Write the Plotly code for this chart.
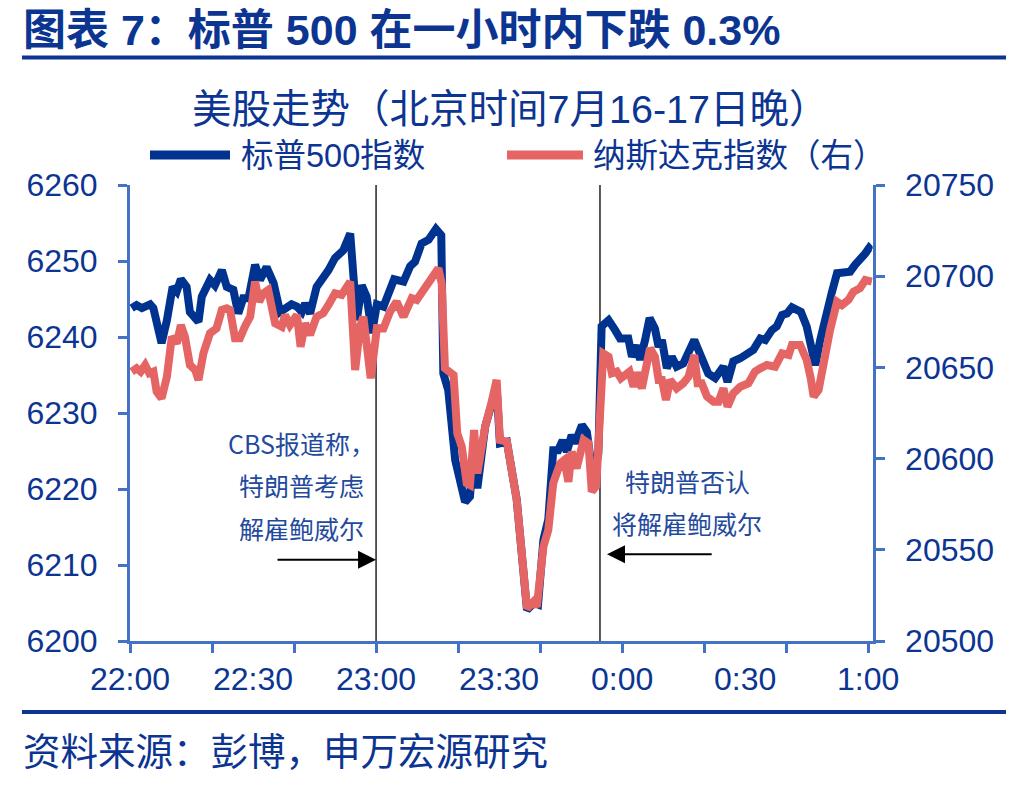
import plotly.graph_objects as go

W, H = 1028, 787

TITLE = "图表 7：标普 500 在一小时内下跌 0.3%"
CHART_TITLE = "美股走势（北京时间7月16-17日晚）"
SOURCE = "资料来源：彭博，申万宏源研究"
SP_NAME = "标普500指数"
NQ_NAME = "纳斯达克指数（右）"

# minutes after 22:00 (Beijing time)
sp_minutes = [0.4, 1.6, 2.9, 4.9, 5.7, 7.7, 9.0, 10.4, 11.4, 12.4, 13.8, 14.6, 16.7, 17.5, 19.5,
              20.7, 22.4, 23.6, 25.2, 26.4, 27.6, 28.9, 30.5, 31.7, 33.3, 35.0, 36.6, 38.2, 39.4,
              40.7, 41.9, 42.7, 43.9, 45.5, 47.1, 48.4, 50.0, 52.0, 53.7, 54.5, 55.3, 56.5, 57.7,
              59.0, 60.2, 61.8, 63.0, 64.4, 66.7, 68.3, 69.5, 71.1, 72.8, 74.6, 75.9, 76.4, 77.6,
              79.3, 81.7, 82.9, 83.9, 84.7, 86.6, 89.0, 89.4, 90.2, 91.9, 94.3, 95.5, 96.8, 98.5,
              99.5, 100.8, 102.0, 103.2, 104.4, 105.5, 106.5, 107.7, 108.5, 110.2, 111.4, 113.0,
              114.2, 115.0, 116.7, 118.3, 119.5, 121.5, 122.4, 123.6, 124.4, 125.6, 126.7, 128.0,
              128.9, 129.7, 130.9, 132.1, 133.3, 134.9, 136.2, 137.6, 138.6, 139.8, 141.0, 142.7,
              144.7, 145.7, 147.1, 148.8, 150.8, 152.0, 153.7, 154.9, 156.5, 157.7, 159.0, 160.2,
              161.4, 162.6, 163.6, 165.0, 166.3, 167.1, 168.3, 169.9, 171.1, 172.4, 173.8, 175.6,
              176.8, 178.0, 179.3, 180.2, 180.7]
sp_values = [6243.8, 6244.2, 6243.8, 6244.3, 6243.8, 6239.2, 6242.2, 6246.6, 6246.0, 6247.6, 6246.6,
             6243.3, 6242.0, 6245.3, 6247.5, 6246.8, 6248.8, 6246.6, 6246.2, 6243.1, 6245.1, 6245.1,
             6249.5, 6247.5, 6249.2, 6247.1, 6243.3, 6243.8, 6244.3, 6244.0, 6243.3, 6244.4, 6243.1,
             6246.6, 6247.7, 6248.8, 6250.4, 6251.4, 6253.6, 6246.2, 6242.2, 6246.8, 6245.3, 6240.5,
             6244.3, 6244.0, 6245.8, 6247.6, 6247.3, 6249.3, 6249.9, 6252.3, 6252.8, 6254.2, 6253.4,
             6235.2, 6233.0, 6223.8, 6218.3, 6219.0, 6226.0, 6220.1, 6228.2, 6232.1, 6233.5, 6226.0,
             6226.2, 6218.6, 6211.5, 6204.1, 6205.0, 6204.8, 6213.3, 6216.0, 6225.1, 6225.1, 6226.4,
             6224.9, 6227.1, 6226.0, 6228.4, 6227.5, 6221.2, 6224.7, 6241.4, 6242.2, 6240.9, 6239.8,
             6239.8, 6237.4, 6238.9, 6237.0, 6239.6, 6242.5, 6241.1, 6238.7, 6239.6, 6235.9, 6237.4,
             6236.1, 6236.5, 6237.8, 6239.6, 6238.3, 6237.0, 6235.2, 6234.6, 6236.1, 6234.1, 6236.8,
             6237.2, 6238.1, 6238.3, 6239.8, 6239.6, 6240.9, 6241.4, 6242.9, 6243.1, 6243.9, 6243.6,
             6243.3, 6241.4, 6238.7, 6236.3, 6239.6, 6243.6, 6245.8, 6248.4, 6248.5, 6248.6, 6249.5,
             6250.1, 6251.0, 6251.7, 6251.4]

nq_minutes = [0.4, 1.6, 2.6, 3.7, 4.7, 5.7, 6.5, 7.7, 9.0, 10.2, 11.4, 12.4, 13.4, 14.6, 15.9, 16.7,
              17.9, 19.5, 21.1, 22.4, 23.6, 24.4, 25.6, 26.8, 28.0, 29.3, 30.5, 31.5, 32.5, 33.7,
              35.4, 37.0, 37.8, 39.0, 40.7, 41.6, 42.7, 43.9, 45.5, 47.1, 48.4, 50.0, 51.6, 53.7,
              54.9, 56.1, 56.9, 58.7, 60.2, 61.8, 63.4, 65.0, 66.7, 68.7, 69.9, 72.0, 73.6, 75.2,
              76.0, 76.8, 78.9, 79.8, 80.9, 82.1, 82.9, 83.9, 84.7, 86.6, 88.2, 89.4, 90.2, 91.9,
              94.3, 95.5, 96.8, 98.4, 99.2, 100.8, 102.0, 103.2, 104.9, 105.9, 106.9, 107.7, 108.9,
              110.6, 111.8, 112.6, 113.7, 115.4, 116.7, 117.5, 118.7, 119.7, 120.7, 121.8, 122.8,
              123.6, 124.8, 126.0, 126.8, 128.0, 128.9, 129.7, 130.7, 131.7, 133.3, 134.9, 136.2,
              137.6, 138.4, 139.4, 140.7, 142.3, 143.5, 144.7, 145.7, 147.1, 148.8, 150.8, 152.4,
              153.7, 155.3, 157.3, 159.0, 160.6, 161.4, 163.4, 165.0, 166.0, 166.7, 167.9, 169.1,
              170.7, 172.4, 173.6, 175.2, 176.4, 178.0, 179.3, 180.9]
nq_values = [20647.7, 20649.5, 20647.7, 20651.3, 20646.8, 20647.7, 20636.7, 20633.0, 20644.9, 20666.8,
             20663.2, 20673.2, 20666.8, 20651.3, 20648.6, 20643.1, 20657.7, 20668.7, 20671.4, 20681.5,
             20682.4, 20681.5, 20666.0, 20666.0, 20672.3, 20677.8, 20697.0, 20686.0, 20690.5, 20692.4,
             20674.2, 20672.3, 20678.7, 20673.2, 20678.7, 20661.3, 20674.2, 20667.8, 20677.8, 20679.7,
             20684.2, 20690.6, 20689.7, 20697.0, 20648.6, 20672.3, 20677.8, 20644.0, 20671.5, 20671.4,
             20680.5, 20686.0, 20677.8, 20687.9, 20687.0, 20694.2, 20697.9, 20704.3, 20696.1, 20649.5,
             20645.8, 20613.9, 20606.5, 20586.5, 20585.5, 20615.7, 20591.9, 20617.5, 20631.2, 20643.1,
             20610.2, 20609.3, 20577.3, 20548.1, 20517.9, 20521.6, 20518.8, 20551.7, 20560.9, 20586.5,
             20597.4, 20599.2, 20587.3, 20603.8, 20594.7, 20610.2, 20608.4, 20581.9, 20585.0, 20657.7,
             20655.9, 20646.8, 20647.7, 20644.0, 20645.8, 20647.7, 20639.4, 20647.2, 20638.5, 20654.1,
             20660.5, 20655.9, 20643.1, 20643.1, 20632.1, 20643.1, 20638.5, 20641.3, 20644.9, 20656.8,
             20641.3, 20641.3, 20634.0, 20631.2, 20631.2, 20638.5, 20628.5, 20635.8, 20639.4, 20641.3,
             20647.7, 20649.5, 20651.3, 20650.4, 20657.7, 20656.8, 20662.3, 20662.3, 20654.1, 20644.0,
             20634.0, 20637.6, 20654.1, 20670.5, 20686.0, 20684.2, 20687.0, 20691.5, 20693.4, 20697.9,
             20697.0]

x_label_minutes = [0, 30, 60, 90, 120, 150, 180]
x_labels = ["22:00", "22:30", "23:00", "23:30", "0:00", "0:30", "1:00"]
x_tick_minutes = [0, 20, 40, 60, 80, 100, 120, 140, 160, 180]
left_ticks = [6200, 6210, 6220, 6230, 6240, 6250, 6260]
right_ticks = [20500, 20550, 20600, 20650, 20700, 20750]

event_minutes = [60, 114.6]
event_texts = [["CBS报道称，", "特朗普考虑", "解雇鲍威尔"], ["特朗普否认", "将解雇鲍威尔"]]
arrow_tail_minutes = [35.6, 142.2]
arrow_levels = [6210.7, 6211.4]

NAVY = "#0C3592"
SP_COLOR = "#00338F"
NQ_COLOR = "#E56565"
AXIS = "#4472C4"
NOTE = "#1F4A9E"
FONT = "Liberation Sans, Arial, Noto Sans CJK SC"
CJK = "Noto Sans CJK SC, Liberation Sans"


def px(x):
    return x / W


def py(y):
    return 1 - y / H


X_DOM = [px(130), px(872.7)]
Y_DOM = [py(641), py(185)]
X_RANGE = [0, 181.1]

fig = go.Figure()
fig.add_trace(go.Scatter(x=sp_minutes, y=sp_values, mode="lines", name=SP_NAME,
                         line=dict(color=SP_COLOR, width=8), xaxis="x", yaxis="y",
                         showlegend=False))
fig.add_trace(go.Scatter(x=nq_minutes, y=nq_values, mode="lines", name=NQ_NAME,
                         line=dict(color=NQ_COLOR, width=8), xaxis="x", yaxis="y2",
                         showlegend=False))
fig.add_trace(go.Scatter(x=[None], y=[None], xaxis="x2", yaxis="y", showlegend=False,
                         hoverinfo="skip"))

tickfont = dict(family=FONT, size=32, color=NAVY)

fig.update_layout(
    width=W, height=H, margin=dict(l=0, r=0, t=0, b=0, pad=0, autoexpand=False),
    paper_bgcolor="white", plot_bgcolor="white", showlegend=False,
    xaxis=dict(domain=X_DOM, range=X_RANGE, tickmode="array", tickvals=x_tick_minutes,
               showticklabels=False, ticks="outside", ticklen=9, tickwidth=3, tickcolor=AXIS,
               showline=True, linecolor=AXIS, linewidth=3, showgrid=False, zeroline=False,
               anchor="y", automargin=False),
    xaxis2=dict(domain=X_DOM, range=X_RANGE, overlaying="x", anchor="y", side="bottom",
                tickmode="array", tickvals=x_label_minutes, ticktext=x_labels, ticks="",
                showline=False, showgrid=False, zeroline=False, tickfont=tickfont,
                ticklabelstandoff=16, automargin=False),
    yaxis=dict(domain=Y_DOM, range=[6200, 6260], tickmode="array", tickvals=left_ticks,
               ticktext=[str(v) for v in left_ticks],
               ticks="outside", ticklen=9, tickwidth=3, tickcolor=AXIS, showline=True,
               linecolor=AXIS, linewidth=3, showgrid=False, zeroline=False, tickfont=tickfont,
               ticklabelstandoff=14, anchor="x", automargin=False),
    yaxis2=dict(domain=Y_DOM, range=[20500, 20750], tickmode="array", tickvals=right_ticks,
                ticktext=[str(v) for v in right_ticks],
                overlaying="y", side="right", anchor="x", ticks="outside", ticklen=9,
                tickwidth=3, tickcolor=AXIS, showline=True, linecolor=AXIS, linewidth=3,
                showgrid=False, zeroline=False, tickfont=tickfont, ticklabelstandoff=14,
                automargin=False),
)

shapes = []
# event vertical lines
for m in event_minutes:
    shapes.append(dict(type="line", xref="x", yref="y", x0=m, x1=m, y0=6200, y1=6260,
                       line=dict(color="black", width=1.3), layer="below"))
# header / footer rules
shapes.append(dict(type="line", xref="paper", yref="paper", x0=px(22), x1=px(1006),
                   y0=py(57.5), y1=py(57.5), line=dict(color=NAVY, width=4)))
shapes.append(dict(type="line", xref="paper", yref="paper", x0=px(22), x1=px(1006),
                   y0=py(712), y1=py(712), line=dict(color=NAVY, width=4)))
# legend samples
shapes.append(dict(type="line", xref="paper", yref="paper", x0=px(150), x1=px(230),
                   y0=py(155), y1=py(155), line=dict(color=SP_COLOR, width=9)))
shapes.append(dict(type="line", xref="paper", yref="paper", x0=px(507), x1=px(583),
                   y0=py(155), y1=py(155), line=dict(color=NQ_COLOR, width=9)))
fig.update_layout(shapes=shapes)

ann = []
ann.append(dict(text="<b>" + TITLE + "</b>", x=px(21), y=py(30), xref="paper", yref="paper",
                xanchor="left", yanchor="middle", showarrow=False,
                font=dict(family=FONT, size=43, color=NAVY)))
ann.append(dict(text=CHART_TITLE, x=px(510), y=py(109), xref="paper", yref="paper",
                xanchor="center", yanchor="middle", showarrow=False,
                font=dict(family=FONT, size=39.5, color=NAVY)))
ann.append(dict(text=SP_NAME, x=px(239), y=py(156), xref="paper", yref="paper",
                xanchor="left", yanchor="middle", showarrow=False,
                font=dict(family=FONT, size=32.5, color=NAVY)))
ann.append(dict(text=NQ_NAME, x=px(591), y=py(156), xref="paper", yref="paper",
                xanchor="left", yanchor="middle", showarrow=False,
                font=dict(family=FONT, size=32.5, color=NAVY)))
ann.append(dict(text=SOURCE, x=px(21), y=py(752), xref="paper", yref="paper",
                xanchor="left", yanchor="middle", showarrow=False,
                font=dict(family=FONT, size=37.5, color=NAVY)))

note_centers = [301, 687]
note_rows = [[443, 485, 528], [481, 523]]
for lines, cx, rows in zip(event_texts, note_centers, note_rows):
    for line, ry in zip(lines, rows):
        ann.append(dict(text=line, x=px(cx), y=py(ry), xref="paper", yref="paper",
                        xanchor="center", yanchor="middle", showarrow=False,
                        font=dict(family=CJK, size=25, color=NOTE)))

standoffs = [0, 7]
for m, tail, lvl, so in zip(event_minutes, arrow_tail_minutes, arrow_levels, standoffs):
    ann.append(dict(text="", x=m, y=lvl, xref="x", yref="y", ax=tail, ay=lvl, axref="x",
                    ayref="y", showarrow=True, arrowhead=2, arrowsize=1.8, arrowwidth=2,
                    arrowcolor="black", standoff=so))

fig.update_layout(annotations=ann)

fig.write_html("out.html")
